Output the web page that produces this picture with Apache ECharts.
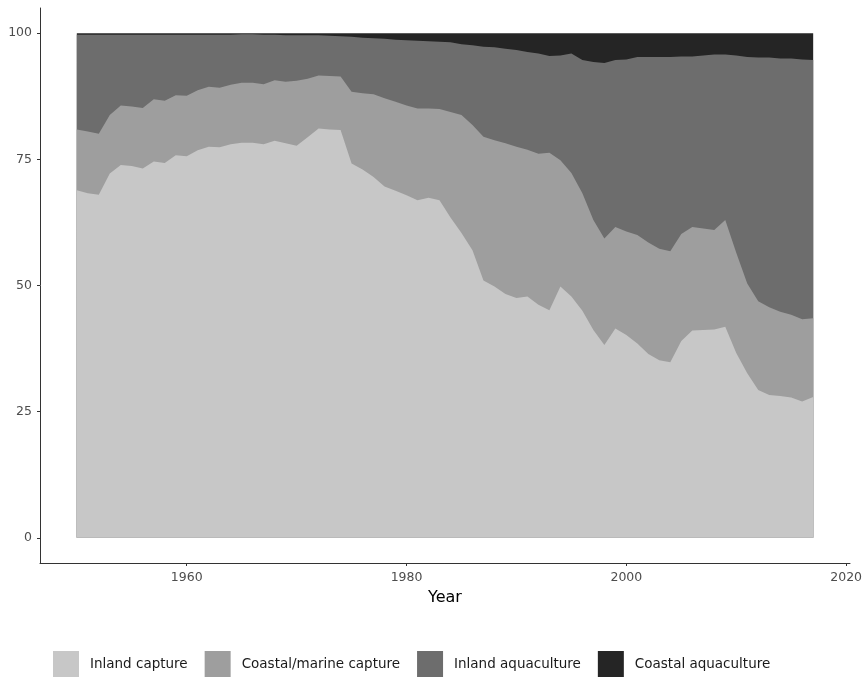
<!DOCTYPE html>
<html>
<head>
<meta charset="utf-8">
<title>Fishery production shares</title>
<script src="https://cdn.jsdelivr.net/npm/echarts@6/dist/echarts.min.js"></script>
<style>
  html, body { margin: 0; padding: 0; background: #fff; }
  #chart { width: 867px; height: 677px; }
</style>
</head>
<body>
<div id="chart"></div>
<script>
// percent share of each sector per year (adds up to 100)
const years = [
  1950, 1951, 1952, 1953, 1954, 1955, 1956, 1957, 1958, 1959,
  1960, 1961, 1962, 1963, 1964, 1965, 1966, 1967, 1968, 1969,
  1970, 1971, 1972, 1973, 1974, 1975, 1976, 1977, 1978, 1979,
  1980, 1981, 1982, 1983, 1984, 1985, 1986, 1987, 1988, 1989,
  1990, 1991, 1992, 1993, 1994, 1995, 1996, 1997, 1998, 1999,
  2000, 2001, 2002, 2003, 2004, 2005, 2006, 2007, 2008, 2009,
  2010, 2011, 2012, 2013, 2014, 2015, 2016, 2017
]

const inlandCapture = [
  68.9, 68.3, 68.0, 72.2, 73.9, 73.7, 73.2, 74.6, 74.3, 75.8,
  75.6, 76.8, 77.5, 77.4, 78.0, 78.3, 78.3, 78.0, 78.7, 78.2,
  77.7, 79.4, 81.1, 80.9, 80.8, 74.2, 73.0, 71.5, 69.6, 68.8,
  67.9, 66.9, 67.4, 66.9, 63.5, 60.4, 57.0, 51.0, 49.8, 48.3,
  47.5, 47.8, 46.2, 45.1, 49.8, 47.8, 45.0, 41.2, 38.2, 41.5,
  40.2, 38.5, 36.4, 35.2, 34.8, 39.0, 41.1, 41.2, 41.3, 41.8,
  36.6, 32.6, 29.3, 28.3, 28.1, 27.8, 27.0, 27.9
]

const coastalCapture = [
  12.0, 12.2, 12.1, 11.6, 11.8, 11.8, 12.0, 12.3, 12.3, 11.9,
  12.0, 11.9, 11.9, 11.8, 11.8, 11.9, 11.9, 11.9, 12.0, 12.2,
  12.9, 11.6, 10.5, 10.6, 10.6, 14.2, 15.1, 16.4, 17.5, 17.6,
  17.8, 18.2, 17.7, 18.1, 20.9, 23.4, 24.8, 28.5, 29.0, 29.9,
  30.0, 29.1, 29.9, 31.2, 25.0, 24.5, 23.3, 21.8, 21.1, 20.1,
  20.5, 21.5, 22.1, 22.1, 22.0, 21.2, 20.5, 20.1, 19.7, 21.2,
  19.9, 17.8, 17.6, 17.4, 16.7, 16.4, 16.3, 15.6
]

const inlandAquaculture = [
  18.8, 19.2, 19.6, 15.9, 14.0, 14.2, 14.5, 12.8, 13.1, 12.0,
  12.1, 11.0, 10.3, 10.5, 9.9, 9.6, 9.6, 9.8, 9.0, 9.2,
  9.0, 8.6, 8.0, 8.0, 8.0, 10.9, 11.0, 11.1, 11.8, 12.3,
  12.9, 13.4, 13.3, 13.3, 13.8, 14.0, 15.8, 17.8, 18.4, 18.7,
  19.2, 19.4, 19.9, 19.2, 20.8, 23.7, 26.4, 31.3, 34.8, 33.1,
  34.1, 35.3, 36.8, 38.0, 38.5, 35.2, 33.8, 34.3, 34.8, 32.8,
  39.1, 44.9, 48.3, 49.5, 50.2, 50.8, 51.5, 51.2
]

const coastalAquaculture = [
  0.3, 0.3, 0.3, 0.3, 0.3, 0.3, 0.3, 0.3, 0.3, 0.3,
  0.3, 0.3, 0.3, 0.3, 0.3, 0.2, 0.2, 0.3, 0.3, 0.4,
  0.4, 0.4, 0.4, 0.5, 0.6, 0.7, 0.9, 1.0, 1.1, 1.3,
  1.4, 1.5, 1.6, 1.7, 1.8, 2.2, 2.4, 2.7, 2.8, 3.1,
  3.3, 3.7, 4.0, 4.5, 4.4, 4.0, 5.3, 5.7, 5.9, 5.3,
  5.2, 4.7, 4.7, 4.7, 4.7, 4.6, 4.6, 4.4, 4.2, 4.2,
  4.4, 4.7, 4.8, 4.8, 5.0, 5.0, 5.2, 5.3
]

const xTicks = [1960, 1980, 2000, 2020]
const yTicks = [0, 25, 50, 75, 100]

// bottom to top
const layers = [
  { name: 'Inland capture', values: inlandCapture, color: '#c7c7c7' },
  { name: 'Coastal/marine capture', values: coastalCapture, color: '#9e9e9e' },
  { name: 'Inland aquaculture', values: inlandAquaculture, color: '#6d6d6d' },
  { name: 'Coastal aquaculture', values: coastalAquaculture, color: '#252525' }
]

const font = 'DejaVu Sans'
const axisColor = '#333333'
const labelColor = '#4d4d4d'

// running totals so each layer's top edge sits on the one below
const tops = []
let running = years.map(() => 0)
layers.forEach(l => {
  running = running.map((v, i) => v + l.values[i])
  tops.push(running)
})

// draw the tallest band first, then paint the lower ones over it
const series = layers.map((l, k) => ({
  name: l.name,
  type: 'line',
  symbol: 'none',
  showSymbol: false,
  z: 10 - k,
  color: l.color,
  itemStyle: { color: l.color },
  lineStyle: { width: 0, color: l.color },
  areaStyle: { color: l.color, opacity: 1, origin: 0 },
  data: years.map((y, i) => [y, tops[k][i]])
})).reverse()

const chart = echarts.init(document.getElementById('chart'), null, { renderer: 'canvas' })

const option = {
  animation: false,
  backgroundColor: '#ffffff',
  grid: { left: 40, right: 17, top: 8, bottom: 114 },
  legend: {
    left: 48,
    top: 646,
    icon: 'rect',
    itemWidth: 26,
    itemHeight: 26,
    itemGap: 17,
    textStyle: { fontFamily: font, fontSize: 13.5, color: '#1a1a1a', padding: [0, 0, 0, 6] },
    data: layers.map(l => l.name)
  },
  xAxis: {
    type: 'value',
    min: 1946.65,
    max: 2020.35,
    name: 'Year',
    nameLocation: 'middle',
    nameGap: 27,
    nameTextStyle: { fontFamily: font, fontSize: 16, color: '#000' },
    axisLine: { show: true, onZero: false, lineStyle: { color: axisColor, width: 1 } },
    axisTick: { show: true, length: 3, customValues: xTicks, lineStyle: { color: axisColor } },
    axisLabel: {
      customValues: xTicks,
      margin: 8,
      fontFamily: font,
      fontSize: 12.5,
      color: labelColor,
      formatter: v => String(v)
    },
    splitLine: { show: false }
  },
  yAxis: {
    type: 'value',
    min: -5,
    max: 105,
    axisLine: { show: true, onZero: false, lineStyle: { color: axisColor, width: 1 } },
    axisTick: { show: true, length: 3, customValues: yTicks, lineStyle: { color: axisColor } },
    axisLabel: {
      customValues: yTicks,
      margin: 8,
      fontFamily: font,
      fontSize: 12.5,
      color: labelColor
    },
    splitLine: { show: false }
  },
  series: series
}

chart.setOption(option)
</script>
</body>
</html>
